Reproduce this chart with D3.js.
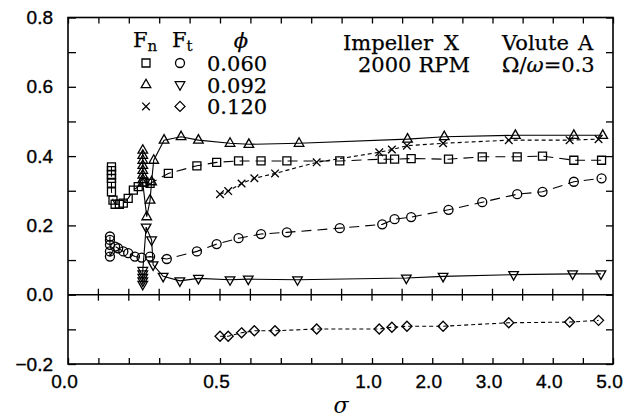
<!DOCTYPE html>
<html>
<head>
<meta charset="utf-8">
<script src="https://cdn.jsdelivr.net/npm/d3@7"></script>
<style>
  body { margin: 0; background: #fff; }
  svg { display: block; }
</style>
</head>
<body>
<svg id="chart"></svg>
<script>
// tick values for the (piecewise) sigma axis and the force axis
var xTicks = [0, 0.1, 0.2, 0.3, 0.4, 0.5, 0.6, 0.7, 0.8, 0.9, 1, 1.5, 2, 2.5, 3, 3.5, 4, 4.5, 5];
var xLabels = [0, 0.5, 1, 2, 3, 4, 5];
var yTicks = [-0.2, -0.1, 0, 0.1, 0.2, 0.3, 0.4, 0.5, 0.6, 0.7, 0.8];
var yLabels = [-0.2, 0, 0.2, 0.4, 0.6, 0.8];

// phi = 0.060
var sigmaFn060 = [0.143, 0.143, 0.143, 0.143, 0.143, 0.143, 0.148, 0.155, 0.169, 0.182, 0.198, 0.215, 0.231, 0.250, 0.270, 0.330, 0.424, 0.489, 0.561, 0.635, 0.72, 0.894, 1.17, 1.375, 1.65, 2.27, 2.83, 3.41, 3.83, 4.35, 4.81];
var fn060 = [0.369, 0.358, 0.347, 0.336, 0.322, 0.297, 0.273, 0.261, 0.261, 0.264, 0.278, 0.302, 0.312, 0.325, 0.321, 0.350, 0.372, 0.382, 0.386, 0.386, 0.386, 0.386, 0.391, 0.391, 0.393, 0.391, 0.398, 0.398, 0.400, 0.388, 0.388];
var sigmaFt060 = [0.138, 0.138, 0.138, 0.138, 0.138, 0.155, 0.165, 0.182, 0.198, 0.220, 0.242, 0.270, 0.325, 0.424, 0.489, 0.561, 0.635, 0.72, 0.894, 1.17, 1.375, 1.65, 2.27, 2.83, 3.41, 3.83, 4.35, 4.81];
var ft060 = [0.168, 0.158, 0.144, 0.125, 0.110, 0.139, 0.134, 0.125, 0.120, 0.110, 0.107, 0.110, 0.103, 0.125, 0.146, 0.163, 0.175, 0.180, 0.192, 0.203, 0.218, 0.224, 0.245, 0.267, 0.290, 0.297, 0.326, 0.336];

// phi = 0.092
var sigmaFn092 = [0.246, 0.246, 0.246, 0.246, 0.246, 0.246, 0.246, 0.246, 0.259, 0.270, 0.275, 0.282, 0.316, 0.372, 0.429, 0.533, 0.595, 0.760, 1.59, 2.20, 3.38, 4.35, 4.83];
var fn092 = [0.417, 0.402, 0.388, 0.373, 0.359, 0.345, 0.332, 0.322, 0.225, 0.273, 0.326, 0.388, 0.446, 0.456, 0.446, 0.437, 0.434, 0.437, 0.449, 0.456, 0.460, 0.460, 0.460];
var sigmaFt092 = [0.246, 0.246, 0.246, 0.246, 0.246, 0.257, 0.275, 0.280, 0.313, 0.368, 0.429, 0.533, 0.593, 0.755, 1.57, 2.18, 3.35, 4.33, 4.80];
var ft092 = [0.030, 0.040, 0.050, 0.060, 0.070, 0.195, 0.158, 0.086, 0.053, 0.040, 0.047, 0.043, 0.045, 0.043, 0.048, 0.053, 0.058, 0.060, 0.060];

// phi = 0.120
var sigma120 = [0.50, 0.527, 0.571, 0.613, 0.681, 0.818, 1.12, 1.33, 1.58, 2.18, 3.27, 4.28, 4.76];
var fn120 = [0.290, 0.299, 0.321, 0.336, 0.350, 0.382, 0.411, 0.419, 0.430, 0.437, 0.446, 0.446, 0.449];
var ft120 = [-0.120, -0.120, -0.110, -0.104, -0.104, -0.099, -0.099, -0.094, -0.091, -0.091, -0.081, -0.079, -0.074];

var width = 638, height = 417;
var sans = "'Liberation Sans', Arial, sans-serif";
var serif = "'DejaVu Serif', serif";

var svg = d3.select("#chart")
    .attr("width", width)
    .attr("height", height);

var x = d3.scaleLinear().domain([0, 1, 5]).range([68, 372, 613]);
var y = d3.scaleLinear().domain([-0.2, 0.8]).range([364, 17.5]);

function fmt(list) {
    return function(d) { return list.indexOf(d) >= 0 ? d.toFixed(1) : ""; };
}

// axes
var gB = svg.append("g")
    .attr("transform", "translate(0," + y(-0.2) + ")")
    .call(d3.axisBottom(x).tickValues(xTicks).tickSizeInner(-6).tickSizeOuter(0).tickPadding(11).tickFormat(fmt(xLabels)));
gB.selectAll("text").attr("dx", -4);

var gT = svg.append("g")
    .attr("transform", "translate(0," + y(0.8) + ")")
    .call(d3.axisTop(x).tickValues(xTicks).tickSizeInner(-6).tickSizeOuter(0).tickFormat(""));

var gL = svg.append("g")
    .attr("transform", "translate(" + x(0) + ",0)")
    .call(d3.axisLeft(y).tickValues(yTicks).tickSizeInner(-8).tickSizeOuter(0).tickPadding(15).tickFormat(fmt(yLabels)));

var gR = svg.append("g")
    .attr("transform", "translate(" + x(5) + ",0)")
    .call(d3.axisRight(y).tickValues(yTicks).tickSizeInner(-7).tickSizeOuter(0).tickFormat(""));

svg.selectAll(".domain").remove();
svg.selectAll(".tick line").attr("stroke", "#000").attr("stroke-width", 1.3);
svg.selectAll(".tick text")
    .attr("fill", "#000")
    .attr("stroke", "#000")
    .attr("stroke-width", 0.35)
    .style("font-family", sans)
    .style("font-size", "19px");
gL.selectAll("text").text(function(d) { return yLabels.indexOf(d) >= 0 ? (d < 0 ? "\u2212" : "") + Math.abs(d).toFixed(1) : ""; });

// frame
svg.append("rect")
    .attr("x", x(0))
    .attr("y", y(0.8))
    .attr("width", x(5) - x(0))
    .attr("height", y(-0.2) - y(0.8))
    .attr("fill", "none")
    .attr("stroke", "#000")
    .attr("stroke-width", 1.6);

// zero line with crossing ticks
svg.append("line")
    .attr("x1", x(0)).attr("x2", x(5))
    .attr("y1", y(0)).attr("y2", y(0))
    .attr("stroke", "#000").attr("stroke-width", 1.4);
svg.append("g").selectAll("line")
    .data(xTicks.slice(1, -1))
    .enter().append("line")
    .attr("x1", function(d) { return x(d); })
    .attr("x2", function(d) { return x(d); })
    .attr("y1", y(0) - 6)
    .attr("y2", y(0) + 6)
    .attr("stroke", "#000").attr("stroke-width", 1.3);

// markers
function marker(type) {
    if (type == "square") return "M-4,-4H4V4H-4Z";
    if (type == "circle") return "M-4.5,0A4.5,4.5 0 1,0 4.5,0A4.5,4.5 0 1,0 -4.5,0Z";
    if (type == "up") return "M0,-5.5L4.8,3L-4.8,3Z";
    if (type == "down") return "M0,5.5L4.8,-3L-4.8,-3Z";
    if (type == "diamond") return "M0,-5L5,0L0,5L-5,0Z";
    if (type == "cross") return "M-3.8,-3.8L3.8,3.8M-3.8,3.8L3.8,-3.8";
}

var series = [
    {s: sigmaFn060, v: fn060, m: "square", dash: "10,6"},
    {s: sigmaFt060, v: ft060, m: "circle", dash: "10,6"},
    {s: sigmaFn092, v: fn092, m: "up", dash: null},
    {s: sigmaFt092, v: ft092, m: "down", dash: null},
    {s: sigma120, v: fn120, m: "cross", dash: "4,3"},
    {s: sigma120, v: ft120, m: "diamond", dash: "4,3"}
];

var line = d3.line()
    .x(function(d) { return x(d[0]); })
    .y(function(d) { return y(d[1]); });

series.forEach(function(sr) {
    var pts = sr.s.map(function(s, i) { return [s, sr.v[i]]; });
    svg.append("path")
        .datum(pts)
        .attr("d", line)
        .attr("fill", "none")
        .attr("stroke", "#000")
        .attr("stroke-width", 1.1)
        .attr("stroke-dasharray", sr.dash);
    svg.append("g").selectAll("path")
        .data(pts)
        .enter().append("path")
        .attr("d", marker(sr.m))
        .attr("transform", function(d) { return "translate(" + x(d[0]) + "," + y(d[1]) + ")"; })
        .attr("fill", "none")
        .attr("stroke", "#000")
        .attr("stroke-width", 1.3);
});

// legend
var leg = svg.append("g").style("font-family", serif).style("font-size", "21px")
    .attr("fill", "#000").attr("stroke", "#000").attr("stroke-width", 0.25);
var fn = leg.append("text").attr("x", 133).attr("y", 47);
fn.append("tspan").text("F");
fn.append("tspan").attr("dy", 4).style("font-size", "15px").text("n");
var ft = leg.append("text").attr("x", 172).attr("y", 47);
ft.append("tspan").text("F");
ft.append("tspan").attr("dy", 4).style("font-size", "15px").text("t");
leg.append("text").attr("x", 241).attr("y", 48).attr("text-anchor", "middle").style("font-style", "italic").text("\u03d5");

var legRows = [["square", "circle", "0.060"], ["up", "down", "0.092"], ["cross", "diamond", "0.120"]];
legRows.forEach(function(r, i) {
    var yy = 63 + i * 21.7;
    leg.append("path").attr("d", marker(r[0])).attr("transform", "translate(146," + yy + ")")
        .attr("fill", "none").attr("stroke", "#000").attr("stroke-width", 1.3);
    leg.append("path").attr("d", marker(r[1])).attr("transform", "translate(180," + yy + ")")
        .attr("fill", "none").attr("stroke", "#000").attr("stroke-width", 1.3);
    leg.append("text").attr("x", 207).attr("y", yy + 8).text(r[2]);
});

// annotations
var ann = svg.append("g").style("font-family", serif).style("font-size", "21px")
    .attr("fill", "#000").attr("stroke", "#000").attr("stroke-width", 0.25);
var t1 = ann.append("text").attr("x", 343).attr("y", 50);
t1.append("tspan").text("Impeller");
t1.append("tspan").attr("dx", 11).text("X");
var t2 = ann.append("text").attr("x", 502).attr("y", 50);
t2.append("tspan").text("Volute");
t2.append("tspan").attr("dx", 9).text("A");
var t3 = ann.append("text").attr("x", 358).attr("y", 72);
t3.append("tspan").text("2000");
t3.append("tspan").attr("dx", 7).text("RPM");
var t4 = ann.append("text").attr("x", 502).attr("y", 72);
t4.append("tspan").text("\u03a9/");
t4.append("tspan").style("font-style", "italic").text("\u03c9");
t4.append("tspan").text("=0.3");

// axis title
svg.append("text")
    .attr("x", 341).attr("y", 413)
    .attr("text-anchor", "middle")
    .style("font-family", serif)
    .style("font-size", "22px")
    .style("font-style", "italic")
    .text("\u03c3");
</script>
</body>
</html>
